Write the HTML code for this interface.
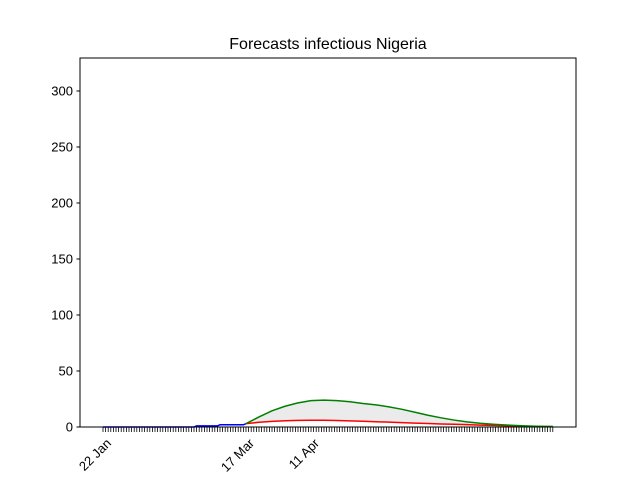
<!DOCTYPE html>
<html><head><meta charset="utf-8"><style>
body{margin:0;background:#fff}
svg text{font-family:"Liberation Sans","DejaVu Sans",sans-serif;fill:#000}
</style></head><body>
<svg id="chart" width="640" height="480" xmlns="http://www.w3.org/2000/svg">
<rect width="640" height="480" fill="#fff"/>
<text x="328" y="49" font-size="16" text-anchor="middle">Forecasts infectious Nigeria</text>
<g id="plot"></g>
<rect x="80" y="58" width="496" height="369" fill="none" stroke="#000" stroke-width="1"/>
</svg>
<script>
const yTicks=[0,50,100,150,200,250,300];
const xLabelDays=[0,55,80];
const xLabels=['22 Jan','17 Mar','11 Apr'];
const totalDays=173;
const observed=[0,0,0,0,0,0,0,0,0,0,0,0,0,0,0,0,0,0,0,0,0,0,0,0,0,0,0,0,0,0,0,0,0,0,0,0,1,1,1,1,1,1,1,1,1,2,2,2,2,2,2,2,2,2,2,3];
const fcDays=[55,60,65,70,75,80,85,90,95,100,105,110,115,120,125,130,135,140,145,150,155,160,165,170,173];
const fcUpper=[3,9,14.5,18.5,21.5,23.5,24,23.5,22.5,21,19.8,18,15.8,13.2,10.5,8.2,6.2,4.6,3.4,2.5,1.8,1.2,0.8,0.5,0.4];
const fcMedian=[3,4.2,5,5.6,5.9,6,6,5.8,5.5,5.1,4.7,4.3,3.9,3.5,3.1,2.7,2.4,2.1,1.7,1.4,1.1,0.8,0.6,0.4,0.3];
const X=d=>103+d*2.6;
const Y=v=>427-v*1.12;
const NS='http://www.w3.org/2000/svg';
const g=document.getElementById('plot');
function mk(t,a){const e=document.createElementNS(NS,t);for(const k in a)e.setAttribute(k,a[k]);g.appendChild(e);return e;}
yTicks.forEach(v=>{
 const l=mk('line',{x1:76.5,x2:80,y1:Y(v),y2:Y(v),stroke:'#000'});
 
 
 const t=mk('text',{x:73,y:Y(v)+4.5,'font-size':13,'text-anchor':'end'});t.textContent=v;
 
 
});
for(let d=0;d<=totalDays;d++){
 const l=mk('line',{x1:X(d),x2:X(d),y1:427,y2:432,stroke:'#000','stroke-width':0.8});
 
 
}
xLabelDays.forEach((d,i)=>{
 const t=mk('text',{'font-size':13,'text-anchor':'end',transform:`translate(${X(d)+9},${444}) rotate(-45)`});
 t.textContent=xLabels[i];
 
 
});
let band='';
fcDays.forEach((d,i)=>band+=(i?'L':'M')+X(d)+','+Y(fcUpper[i]));
for(let i=fcDays.length-1;i>=0;i--)band+='L'+X(fcDays[i])+','+Y(fcMedian[i]);
const b=mk('path',{d:band+'Z',fill:'#ebebeb',stroke:'none'});


const pts=(ds,vs)=>ds.map((d,i)=>X(d)+','+Y(vs[i])).join(' ');
const ob=mk('polyline',{points:pts(observed.map((_,i)=>i),observed),fill:'none',stroke:'#0000ff','stroke-width':1.5});


const md=mk('polyline',{points:pts(fcDays,fcMedian),fill:'none',stroke:'#ff0000','stroke-width':1.5});


const up=mk('polyline',{points:pts(fcDays,fcUpper),fill:'none',stroke:'#008000','stroke-width':1.5});


</script>
</body></html>
